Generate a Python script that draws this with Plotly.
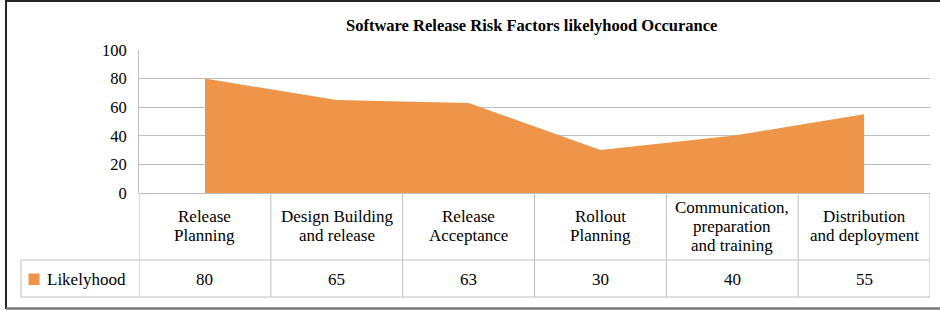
import plotly.graph_objects as go

# ---------------- data ----------------
title_text = "Software Release Risk Factors likelyhood Occurance"
categories = [
    "Release<br>Planning",
    "Design Building<br>and release",
    "Release<br>Acceptance",
    "Rollout<br>Planning",
    "Communication,<br>preparation<br>and training",
    "Distribution<br>and deployment",
]
series_name = "Likelyhood"
likelyhood = [80, 65, 63, 30, 40, 55]
y_ticks = [0, 20, 40, 60, 80, 100]

# ---------------- layout constants (pixels) ----------------
W, H = 940, 310
PL, PR, PT, PB = 139, 930, 50, 193
ORANGE = "#EE954A"
GRID = "#C0C0C0"
FONT = "'Liberation Serif', 'Times New Roman', serif"
TXT = 17


def py(p):
    return (PB - p) / (PB - PT)


def px(p):
    return (p - PL) / (PR - PL)


xs = list(range(len(categories)))

fig = go.Figure()
fig.add_trace(go.Scatter(
    x=xs, y=likelyhood, mode="lines", fill="tozeroy",
    fillcolor=ORANGE, line=dict(width=0, color=ORANGE),
    name=series_name, hoverinfo="skip", showlegend=False,
))

shapes = []
annotations = []

# table rows
ROW1_TOP, ROW1_BOT, ROW2_BOT = PB, 260, 297
LEG_LEFT = 21
line_style = dict(color=GRID, width=1)
for yy in (ROW1_BOT, ROW2_BOT):
    shapes.append(dict(type="line", xref="paper", yref="paper",
                       x0=px(LEG_LEFT), x1=1, y0=py(yy), y1=py(yy), line=line_style))
n = len(categories)
for k in range(n + 1):
    shapes.append(dict(type="line", xref="x", yref="paper",
                       x0=k - 0.5, x1=k - 0.5, y0=py(ROW1_TOP), y1=py(ROW2_BOT),
                       line=line_style))
shapes.append(dict(type="line", xref="paper", yref="paper",
                   x0=px(LEG_LEFT), x1=px(LEG_LEFT), y0=py(ROW1_BOT), y1=py(ROW2_BOT),
                   line=line_style))
# legend key
shapes.append(dict(type="rect", xref="paper", yref="paper",
                   x0=px(28.5), x1=px(39.5), y0=py(273.5), y1=py(285),
                   fillcolor=ORANGE, line=dict(width=0)))

# outer frame
shapes.append(dict(type="line", xref="paper", yref="paper",
                   x0=px(6), x1=px(6), y0=py(0), y1=py(309),
                   line=dict(color="#262626", width=2)))
shapes.append(dict(type="line", xref="paper", yref="paper",
                   x0=px(6), x1=px(941), y0=py(1), y1=py(1),
                   line=dict(color="#262626", width=2)))
shapes.append(dict(type="line", xref="paper", yref="paper",
                   x0=px(6), x1=px(941), y0=py(308.5), y1=py(308.5),
                   line=dict(color="#7A7A7A", width=2.5)))

# category labels
CAT_CENTER = 226
LINE_H = 19
for i, cat in enumerate(categories):
    lines = cat.split("<br>")
    m = len(lines)
    for j, ln in enumerate(lines):
        yc = CAT_CENTER + (j - (m - 1) / 2) * LINE_H
        annotations.append(dict(x=i, y=py(yc), xref="x", yref="paper",
                                text=ln, showarrow=False, xanchor="center",
                                yanchor="middle",
                                font=dict(family=FONT, size=TXT, color="#000")))
# values row
for i, v in enumerate(likelyhood):
    annotations.append(dict(x=i, y=py(279), xref="x", yref="paper",
                            text=str(v), showarrow=False, xanchor="center",
                            yanchor="middle",
                            font=dict(family=FONT, size=TXT, color="#000")))
# legend text
annotations.append(dict(x=px(45), y=py(279), xref="paper", yref="paper",
                        text=series_name, showarrow=False, xanchor="left",
                        yanchor="middle",
                        font=dict(family=FONT, size=TXT, color="#000")))
# title
annotations.append(dict(x=px(531), y=py(26), xref="paper", yref="paper",
                        text="<b>" + title_text + "</b>", showarrow=False,
                        xanchor="center", yanchor="middle",
                        font=dict(family=FONT, size=16.5, color="#000")))

fig.update_layout(
    width=W, height=H, autosize=False,
    margin=dict(l=PL, r=W - PR, t=PT, b=H - PB, pad=0),
    paper_bgcolor="white", plot_bgcolor="white",
    showlegend=False,
    font=dict(family=FONT, size=16, color="#000"),
    shapes=shapes, annotations=annotations,
    xaxis=dict(range=[-0.5, n - 0.5], showticklabels=False, showgrid=False,
               zeroline=False, showline=False, fixedrange=True),
    yaxis=dict(range=[0, 100], tickvals=y_ticks, ticktext=[str(t) for t in y_ticks],
               showgrid=True, gridcolor=GRID, gridwidth=1,
               zeroline=True, zerolinecolor=GRID, zerolinewidth=1,
               showline=True, linecolor=GRID, linewidth=1,
               ticks="", ticklabelstandoff=8,
               tickfont=dict(family=FONT, size=16.5, color="#000"),
               fixedrange=True),
)

fig.write_html(
    "out.html",
    config={"displayModeBar": False},
    post_script="document.body.style.margin='0';document.body.style.overflow='hidden';",
)
